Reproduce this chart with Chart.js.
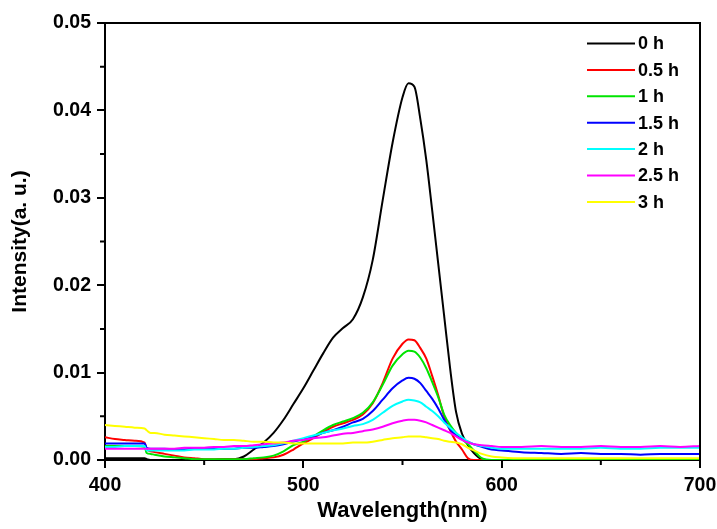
<!DOCTYPE html>
<html>
<head>
<meta charset="utf-8">
<script src="https://cdn.jsdelivr.net/npm/chart.js@4/dist/chart.umd.min.js"></script>
<style>
html,body{margin:0;padding:0;background:#fff;}
#c{display:block;}
</style>
</head>
<body>
<canvas id="c" width="717" height="529"></canvas>
<script>
const wavelengths = [400,405,410,415,420,421,423,425,430,435,440,445,450,455,460,465,470,475,480,485,490,495,500,505,510,515,520,525,530,535,540,545,550,553,556,559,562,565,568,571,574,577,580,583,586,590,595,600,610,620,630,640,650,660,670,680,690,700];

const seriesLabels = ['0 h','0.5 h','1 h','1.5 h','2 h','2.5 h','3 h'];
const seriesColors = ['#000000','#ff0000','#00e400','#0000ff','#00ffff','#ff00ff','#ffff00'];

const h0 = [0.0002,0.0002,0.0002,0.0002,0.0002,0.0001,0,0,0,0,0,0,0,0,0.0001,0.0001,0.0004,0.0012,0.0020,0.0031,0.0046,0.0064,0.0082,0.0102,0.0122,0.0140,0.0151,0.0161,0.0186,0.0229,0.0297,0.0363,0.0415,0.0431,0.0427,0.0390,0.0343,0.0285,0.0225,0.0165,0.0105,0.0055,0.0030,0.0017,0.0008,0.0001,0,0,0,0,0,0,0,0,0,0,0,0];
const h05 = [0.0026,0.0024,0.0023,0.0022,0.0020,0.0012,0.0010,0.0009,0.0007,0.0005,0.0003,0.0002,0.0001,0.0001,0.0001,0.0001,0.0001,0.0001,0.0002,0.0003,0.0006,0.0012,0.0019,0.0025,0.0032,0.0038,0.0042,0.0046,0.0052,0.0065,0.0088,0.0116,0.0133,0.0138,0.0137,0.0128,0.0116,0.0096,0.0074,0.0050,0.0034,0.0021,0.0012,0.0002,0,0,0,0,0,0,0,0,0,0,0,0,0,0];
const h1 = [0.0016,0.0016,0.0016,0.0016,0.0015,0.0008,0.0007,0.0006,0.0004,0.0003,0.0002,0.0001,0.0001,0.0001,0.0001,0.0001,0.0001,0.0002,0.0003,0.0005,0.0010,0.0017,0.0021,0.0027,0.0034,0.0040,0.0044,0.0048,0.0054,0.0066,0.0086,0.0108,0.0121,0.0125,0.0124,0.0117,0.0105,0.0089,0.0072,0.0052,0.0040,0.0031,0.0024,0.0018,0.0011,0.0002,0,0,0,0,0,0,0,0,0,0,0,0];
const h15 = [0.0019,0.0019,0.0019,0.0019,0.0019,0.0014,0.0013,0.0013,0.0013,0.0012,0.0012,0.0013,0.0013,0.0013,0.0013,0.0013,0.0014,0.0014,0.0015,0.0016,0.0018,0.0021,0.0024,0.0027,0.0031,0.0034,0.0038,0.0043,0.0047,0.0056,0.0069,0.0082,0.0091,0.0094,0.0093,0.0088,0.0079,0.0070,0.0059,0.0046,0.0035,0.0028,0.0024,0.0021,0.0018,0.0015,0.0012,0.0011,0.0009,0.0008,0.0007,0.0008,0.0007,0.0007,0.0006,0.0007,0.0007,0.0007];
const h2 = [0.0015,0.0015,0.0016,0.0016,0.0016,0.0011,0.0011,0.0011,0.0011,0.0011,0.0011,0.0012,0.0012,0.0012,0.0013,0.0013,0.0014,0.0015,0.0016,0.0017,0.0019,0.0022,0.0025,0.0028,0.0031,0.0034,0.0036,0.0039,0.0041,0.0046,0.0054,0.0062,0.0067,0.0069,0.0068,0.0066,0.0061,0.0056,0.0050,0.0043,0.0037,0.0031,0.0026,0.0021,0.0018,0.0016,0.0014,0.0013,0.0013,0.0013,0.0013,0.0013,0.0014,0.0013,0.0013,0.0014,0.0014,0.0014];
const h25 = [0.0013,0.0013,0.0013,0.0013,0.0013,0.0013,0.0013,0.0013,0.0013,0.0013,0.0014,0.0014,0.0014,0.0015,0.0015,0.0016,0.0016,0.0017,0.0018,0.0019,0.0020,0.0022,0.0023,0.0025,0.0026,0.0028,0.0030,0.0031,0.0033,0.0035,0.0038,0.0042,0.0045,0.0046,0.0046,0.0045,0.0043,0.0040,0.0037,0.0034,0.0031,0.0027,0.0023,0.0020,0.0018,0.0017,0.0016,0.0015,0.0015,0.0016,0.0015,0.0015,0.0016,0.0015,0.0015,0.0016,0.0015,0.0016];
const h3 = [0.0040,0.0039,0.0038,0.0037,0.0036,0.0034,0.0031,0.0031,0.0029,0.0028,0.0027,0.0026,0.0025,0.0024,0.0023,0.0023,0.0022,0.0021,0.0021,0.0020,0.0020,0.0019,0.0019,0.0019,0.0019,0.0019,0.0019,0.0020,0.0020,0.0021,0.0023,0.0025,0.0026,0.0027,0.0027,0.0027,0.0026,0.0025,0.0024,0.0022,0.0021,0.0020,0.0018,0.0014,0.0011,0.0007,0.0004,0.0003,0.0002,0.0002,0.0002,0.0002,0.0002,0.0002,0.0002,0.0002,0.0002,0.0002];

const seriesValues = [h0,h05,h1,h15,h2,h25,h3];

const xTickLabels = [400,500,600,700];
const yTickLabels = ['0.00','0.01','0.02','0.03','0.04','0.05'];

const FONT = "'Liberation Sans', Arial, sans-serif";

const datasets = seriesValues.map((vals, i) => ({
  label: seriesLabels[i],
  data: wavelengths.map((w, j) => ({x: w, y: vals[j]})),
  borderColor: seriesColors[i],
  backgroundColor: seriesColors[i],
  borderWidth: 2,
  pointRadius: 0,
  fill: false,
  cubicInterpolationMode: 'monotone',
  order: seriesValues.length - i
}));

const framePlugin = {
  id: 'frame',
  afterDraw(chart) {
    const {ctx, chartArea: a, scales} = chart;
    ctx.save();
    ctx.strokeStyle = '#000';
    ctx.lineWidth = 2;
    ctx.beginPath();
    ctx.moveTo(a.left - 1, a.top);
    ctx.lineTo(a.right, a.top);
    ctx.lineTo(a.right, a.bottom + 1);
    ctx.stroke();
    // minor ticks
    ctx.beginPath();
    for (let v = 450; v < 700; v += 100) {
      const px = scales.x.getPixelForValue(v);
      ctx.moveTo(px, a.bottom);
      ctx.lineTo(px, a.bottom + 5);
    }
    for (let k = 5; k < 50; k += 10) {
      const py = scales.y.getPixelForValue(k / 1000);
      ctx.moveTo(a.left, py);
      ctx.lineTo(a.left - 5, py);
    }
    ctx.stroke();
    // legend
    ctx.font = 'bold 18px ' + FONT;
    ctx.textBaseline = 'middle';
    ctx.textAlign = 'left';
    chart.data.datasets.forEach((ds, i) => {
      const y = a.top + 20.5 + i * 26.4;
      ctx.strokeStyle = ds.borderColor;
      ctx.lineWidth = 2;
      ctx.beginPath();
      ctx.moveTo(a.right - 113, y);
      ctx.lineTo(a.right - 65, y);
      ctx.stroke();
      ctx.fillStyle = '#000';
      ctx.fillText(ds.label, a.right - 62, y + 1);
    });
    ctx.restore();
  }
};

new Chart(document.getElementById('c'), {
  type: 'line',
  data: {datasets},
  options: {
    responsive: false,
    animation: false,
    devicePixelRatio: 1,
    layout: {padding: {top: 23, right: 17, left: 0, bottom: 0}},
    plugins: {legend: {display: false}, tooltip: {enabled: false}},
    scales: {
      x: {
        type: 'linear',
        min: 400, max: 700,
        afterFit(s) { s.height = 69; s.paddingLeft = 0; s.paddingRight = 0; },
        ticks: {
          stepSize: 50,
          autoSkip: false,
          maxRotation: 0,
          color: '#000',
          font: {family: FONT, size: 19.5, weight: 'bold'},
          padding: 6,
          callback: (v) => xTickLabels.includes(v) ? String(v) : ''
        },
        grid: {
          drawOnChartArea: false,
          drawTicks: true,
          tickLength: 8,
          lineWidth: 2,
          color: (c) => (c.tick && xTickLabels.includes(c.tick.value)) ? '#000' : 'rgba(0,0,0,0)',
          tickColor: (c) => (c.tick && xTickLabels.includes(c.tick.value)) ? '#000' : 'rgba(0,0,0,0)'
        },
        border: {display: true, color: '#000', width: 2},
        title: {
          display: true,
          text: 'Wavelength(nm)',
          color: '#000',
          font: {family: FONT, size: 22, weight: 'bold'},
          padding: {top: 0, bottom: 5}
        }
      },
      y: {
        min: 0, max: 0.05,
        afterFit(s) { s.width = 105; s.paddingTop = 0; s.paddingBottom = 0; },
        ticks: {
          stepSize: 0.005,
          autoSkip: false,
          color: '#000',
          font: {family: FONT, size: 19.5, weight: 'bold'},
          padding: 6,
          callback: (v) => {
            const k = Math.round(v * 1000);
            return k % 10 === 0 ? yTickLabels[k / 10] : '';
          }
        },
        grid: {
          drawOnChartArea: false,
          drawTicks: true,
          tickLength: 8,
          lineWidth: 2,
          color: (c) => (c.tick && Math.round(c.tick.value * 1000) % 10 === 0) ? '#000' : 'rgba(0,0,0,0)',
          tickColor: (c) => (c.tick && Math.round(c.tick.value * 1000) % 10 === 0) ? '#000' : 'rgba(0,0,0,0)'
        },
        border: {display: true, color: '#000', width: 2},
        title: {
          display: true,
          text: 'Intensity(a. u.)',
          color: '#000',
          font: {family: FONT, size: 21, weight: 'bold'},
          padding: {top: 8, bottom: 0}
        }
      }
    }
  },
  plugins: [framePlugin]
});
</script>
</body>
</html>
